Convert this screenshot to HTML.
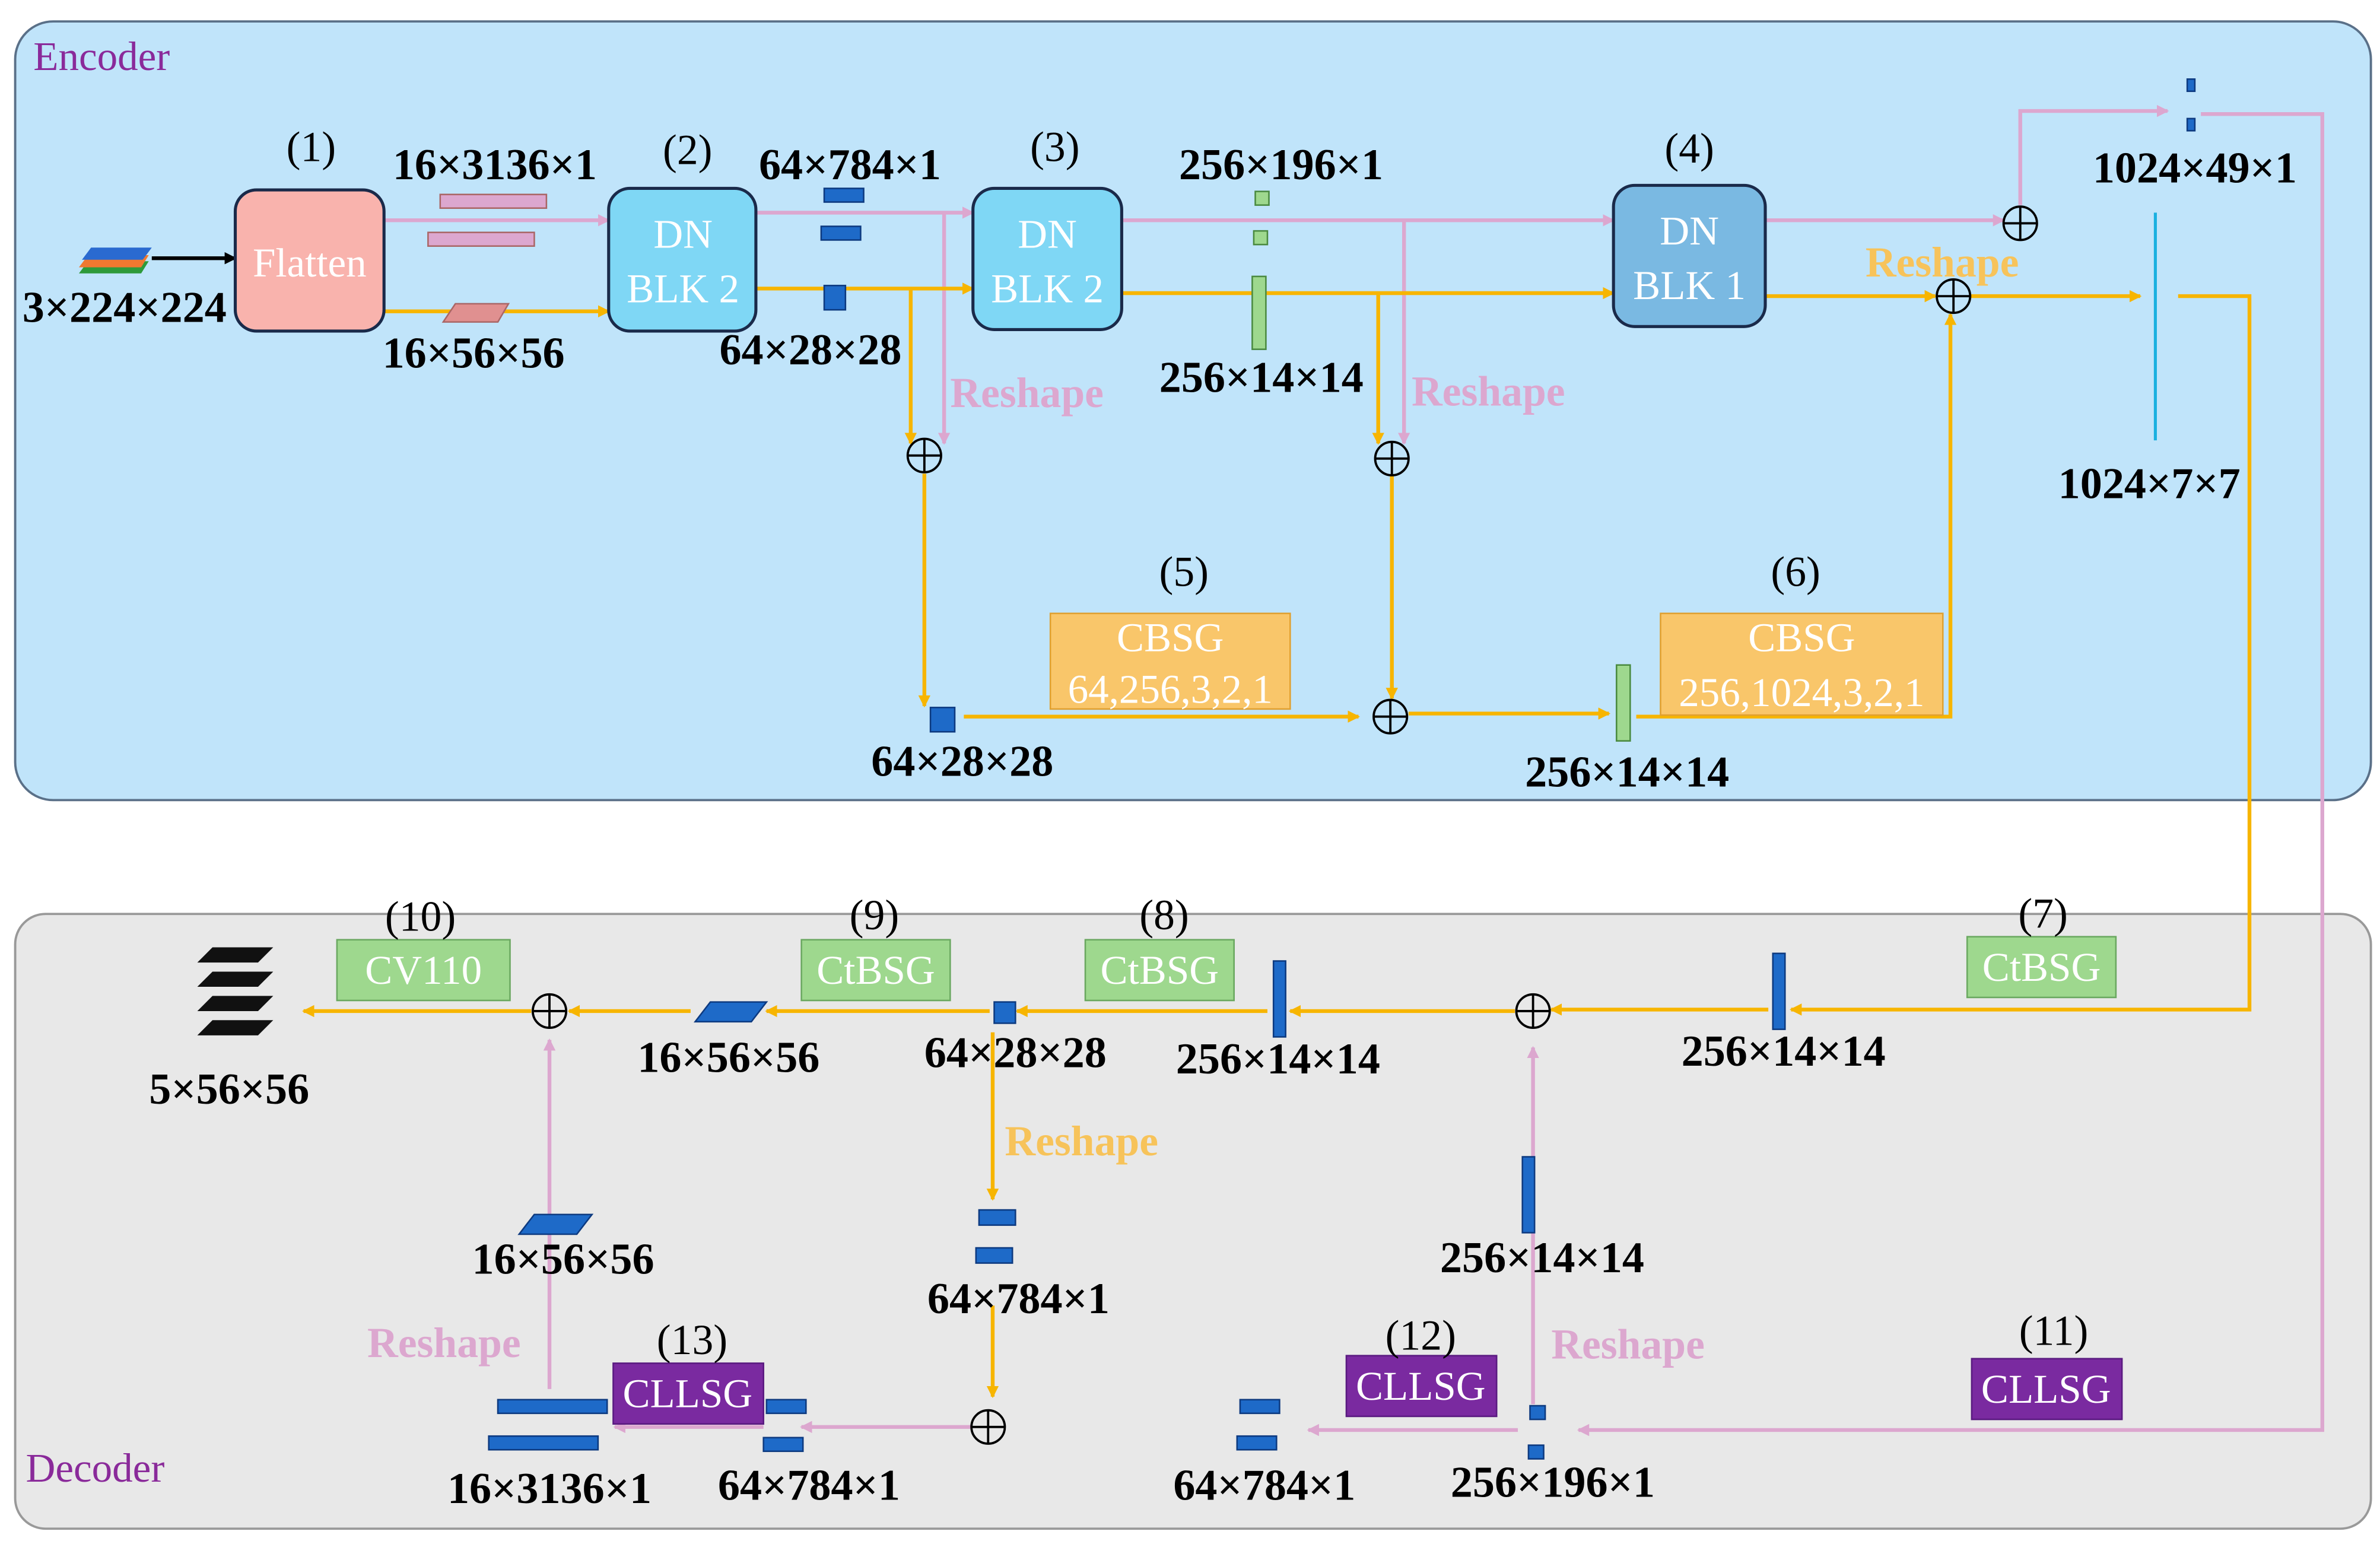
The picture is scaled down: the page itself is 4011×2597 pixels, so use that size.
<!DOCTYPE html>
<html><head><meta charset="utf-8"><style>
html,body{margin:0;padding:0;background:#fff}
svg{display:block}
svg text{font-family:"Liberation Serif","DejaVu Serif",serif !important}
.d{font-weight:bold;font-size:29px;fill:#000}
.n{font-size:28px;fill:#000}
.w{font-size:27px;fill:#fff}
.rp{font-size:28px;font-weight:bold;fill:#dca7cf}
.ro{font-size:28px;font-weight:bold;fill:#f7c35a}
</style></head><body>
<svg width="4011" height="2597" viewBox="0 0 1568 1015" xmlns="http://www.w3.org/2000/svg" font-family="Liberation Serif, serif">
<defs>
<marker id="ap" markerWidth="8" markerHeight="8" refX="7" refY="4" orient="auto" markerUnits="userSpaceOnUse"><path d="M0,0 L8,4 L0,8 z" fill="#dca7cf"/></marker>
<marker id="ao" markerWidth="8" markerHeight="8" refX="7" refY="4" orient="auto" markerUnits="userSpaceOnUse"><path d="M0,0 L8,4 L0,8 z" fill="#f7b500"/></marker>
<marker id="ak" markerWidth="8" markerHeight="8" refX="7" refY="4" orient="auto" markerUnits="userSpaceOnUse"><path d="M0,0 L8,4 L0,8 z" fill="#000"/></marker>
</defs>
<rect x="10" y="14" width="1552" height="513" rx="25" fill="#c0e4fa" stroke="#5a7088" stroke-width="1.5"/>
<rect x="10" y="602" width="1552" height="405" rx="20" fill="#e8e8e8" stroke="#999" stroke-width="1.5"/>
<text x="22" y="46" font-size="27" fill="#8a2a9a" font-family="Liberation Serif, serif">Encoder</text>
<text x="17" y="976" font-size="27" fill="#8a2a9a" font-family="Liberation Serif, serif">Decoder</text>

<g fill="none" stroke-width="2.5">
<g stroke="#dca7cf" marker-end="url(#ap)">
<path d="M253,145 H401"/><path d="M498,140 H641"/><path d="M622,140 V292"/>
<path d="M739,145 H1063"/><path d="M925,145 V292"/><path d="M1163,145 H1320"/>
<path d="M1331,135 V73 H1428"/><path d="M1450,75 H1530 V942 H1040"/>
<path d="M1010,925 V690"/><path d="M1000,942 H862"/><path d="M640,940 H528"/><path d="M503,940 H405"/><path d="M362,915 V685"/>
</g>
<g stroke="#f7b500" marker-end="url(#ao)">
<path d="M253,205 H401"/><path d="M498,190 H641"/><path d="M600,190 V292"/>
<path d="M609,312 V465"/><path d="M635,472 H895"/>
<path d="M739,193 H1063"/><path d="M908,193 V292"/><path d="M917,313 V460"/>
<path d="M928,470 H1060"/><path d="M1078,472 H1285 V207"/>
<path d="M1163,195 H1275"/><path d="M1298,195 H1410"/><path d="M1435,195 H1482 V665 H1180"/>
<path d="M1165,665 H1022"/><path d="M998,666 H850"/><path d="M835,666 H670"/><path d="M652,666 H505"/><path d="M455,666 H375"/><path d="M350,666 H200"/>
<path d="M654,680 V790"/><path d="M654,860 V920"/>
</g>
<path d="M100,170 H155" stroke="#000" marker-end="url(#ak)"/>
</g>
<g fill="none" stroke="#000" stroke-width="1.5">
<circle cx="609" cy="300" r="11"/><path d="M598,300H620M609,289V311"/>
<circle cx="917" cy="302" r="11"/><path d="M906,302H928M917,291V313"/>
<circle cx="916" cy="472" r="11"/><path d="M905,472H927M916,461V483"/>
<circle cx="1331" cy="147" r="11"/><path d="M1320,147H1342M1331,136V158"/>
<circle cx="1287" cy="195" r="11"/><path d="M1276,195H1298M1287,184V206"/>
<circle cx="1010" cy="666" r="11"/><path d="M999,666H1021M1010,655V677"/>
<circle cx="362" cy="666" r="11"/><path d="M351,666H373M362,655V677"/>
<circle cx="651" cy="940" r="11"/><path d="M640,940H662M651,929V951"/>
</g>
<g stroke="#1a2a4a" stroke-width="2">
<rect x="155" y="125" width="98" height="93" rx="14" fill="#f9b3ad"/>
<rect x="401" y="124" width="97" height="94" rx="14" fill="#7fd7f5"/>
<rect x="641" y="124" width="98" height="93" rx="14" fill="#7fd7f5"/>
<rect x="1063" y="122" width="100" height="93" rx="14" fill="#7ab9e2"/>
</g>
<g font-family="Liberation Serif, serif">
<text x="204" y="182" class="w" text-anchor="middle">Flatten</text>
<text x="450" y="163" class="w" text-anchor="middle">DN</text><text x="450" y="199" class="w" text-anchor="middle">BLK 2</text>
<text x="690" y="163" class="w" text-anchor="middle">DN</text><text x="690" y="199" class="w" text-anchor="middle">BLK 2</text>
<text x="1113" y="161" class="w" text-anchor="middle">DN</text><text x="1113" y="197" class="w" text-anchor="middle">BLK 1</text>
</g>
<rect x="692" y="404" width="158" height="63" fill="#f9c66a" stroke="#e0a030"/>
<rect x="1094" y="404" width="186" height="67" fill="#f9c66a" stroke="#e0a030"/>
<g fill="#9ed88e" stroke="#6aa860">
<rect x="1296" y="617" width="98" height="40"/><rect x="715" y="619" width="98" height="40"/><rect x="528" y="619" width="98" height="40"/><rect x="222" y="619" width="114" height="40"/>
</g>
<g fill="#7a2aa0" stroke="#5a1a80">
<rect x="1299" y="895" width="99" height="40"/><rect x="887" y="893" width="99" height="40"/><rect x="404" y="898" width="99" height="40"/>
</g>
<g font-family="Liberation Serif, serif">
<text x="771" y="429" class="w" text-anchor="middle">CBSG</text><text x="771" y="463" class="w" text-anchor="middle">64,256,3,2,1</text>
<text x="1187" y="429" class="w" text-anchor="middle">CBSG</text><text x="1187" y="465" class="w" text-anchor="middle">256,1024,3,2,1</text>
<text x="1345" y="646" class="w" text-anchor="middle">CtBSG</text>
<text x="764" y="648" class="w" text-anchor="middle">CtBSG</text>
<text x="577" y="648" class="w" text-anchor="middle">CtBSG</text>
<text x="279" y="648" class="w" text-anchor="middle">CV110</text>
<text x="1348" y="924" class="w" text-anchor="middle">CLLSG</text>
<text x="936" y="922" class="w" text-anchor="middle">CLLSG</text>
<text x="453" y="927" class="w" text-anchor="middle">CLLSG</text>
</g>
<g class="n" text-anchor="middle" font-family="Liberation Serif, serif">
<text x="205" y="106">(1)</text><text x="453" y="108">(2)</text><text x="695" y="106">(3)</text><text x="1113" y="107">(4)</text>
<text x="780" y="386">(5)</text><text x="1183" y="386">(6)</text><text x="1346" y="611">(7)</text><text x="767" y="612">(8)</text>
<text x="576" y="612">(9)</text><text x="277" y="613">(10)</text><text x="1353" y="886">(11)</text><text x="936" y="889">(12)</text><text x="456" y="892">(13)</text>
</g>
<g class="d" text-anchor="middle" font-family="Liberation Serif, serif">
<text x="82" y="212">3×224×224</text><text x="326" y="118">16×3136×1</text><text x="312" y="242">16×56×56</text>
<text x="560" y="118">64×784×1</text><text x="534" y="240">64×28×28</text><text x="844" y="118">256×196×1</text>
<text x="831" y="258">256×14×14</text><text x="1446" y="120">1024×49×1</text><text x="1416" y="328">1024×7×7</text>
<text x="634" y="511">64×28×28</text><text x="1072" y="518">256×14×14</text>
<text x="1175" y="702">256×14×14</text><text x="842" y="707">256×14×14</text><text x="669" y="703">64×28×28</text>
<text x="480" y="706">16×56×56</text><text x="151" y="727">5×56×56</text><text x="371" y="839">16×56×56</text>
<text x="671" y="865">64×784×1</text><text x="1016" y="838">256×14×14</text><text x="362" y="990">16×3136×1</text>
<text x="533" y="988">64×784×1</text><text x="833" y="988">64×784×1</text><text x="1023" y="986">256×196×1</text>
</g>
<g font-family="Liberation Serif, serif">
<text x="626" y="268" class="rp">Reshape</text><text x="930" y="267" class="rp">Reshape</text>
<text x="1229" y="182" class="ro">Reshape</text><text x="662" y="761" class="ro">Reshape</text>
<text x="242" y="894" class="rp">Reshape</text><text x="1022" y="895" class="rp">Reshape</text>
</g>
<path d="M58,172 L98,172 L93,180 L52,180z" fill="#2e9a3a"/><path d="M58,168 L98,168 L93,176 L52,176z" fill="#f07830"/><path d="M60,163 L100,163 L94,171 L54,171z" fill="#2a6ad0"/>
<rect x="290" y="128" width="70" height="9" fill="#dca7cf" stroke="#a66"/><rect x="282" y="153" width="70" height="9" fill="#dca7cf" stroke="#a66"/>
<path d="M300,200 L335,200 L328,212 L292,212z" fill="#e09090" stroke="#a66"/>
<g fill="#1e6ac8" stroke="#0d3a80">
<rect x="543" y="124" width="26" height="9"/><rect x="541" y="149" width="26" height="9"/>
<rect x="543" y="188" width="14" height="16"/><rect x="613" y="466" width="16" height="16"/>
<rect x="1441" y="52" width="5" height="8"/><rect x="1441" y="78" width="5" height="8"/>
<rect x="1168" y="628" width="8" height="50"/><rect x="839" y="633" width="8" height="50"/><rect x="655" y="660" width="14" height="14"/>
<path d="M468,660 L505,660 L495,673 L458,673z"/><path d="M352,800 L390,800 L380,813 L342,813z"/>
<rect x="1003" y="762" width="8" height="50"/>
<rect x="645" y="797" width="24" height="10"/><rect x="643" y="822" width="24" height="10"/>
<rect x="328" y="922" width="72" height="9"/><rect x="322" y="946" width="72" height="9"/>
<rect x="505" y="922" width="26" height="9"/><rect x="503" y="947" width="26" height="9"/>
<rect x="817" y="922" width="26" height="9"/><rect x="815" y="946" width="26" height="9"/>
<rect x="1008" y="926" width="10" height="9"/><rect x="1007" y="952" width="10" height="9"/>
</g>
<g fill="#9ed88e" stroke="#4a8a40">
<rect x="827" y="126" width="9" height="9"/><rect x="826" y="152" width="9" height="9"/>
<rect x="825" y="182" width="9" height="48"/><rect x="1065" y="438" width="9" height="50"/>
</g>
<line x1="1420" y1="140" x2="1420" y2="290" stroke="#1ab0e0" stroke-width="2"/>
<g fill="#111">
<path d="M140,624 L180,624 L170,634 L130,634z"/><path d="M140,640 L180,640 L170,650 L130,650z"/>
<path d="M140,656 L180,656 L170,666 L130,666z"/><path d="M140,672 L180,672 L170,682 L130,682z"/>
</g>
</svg>
</body></html>
